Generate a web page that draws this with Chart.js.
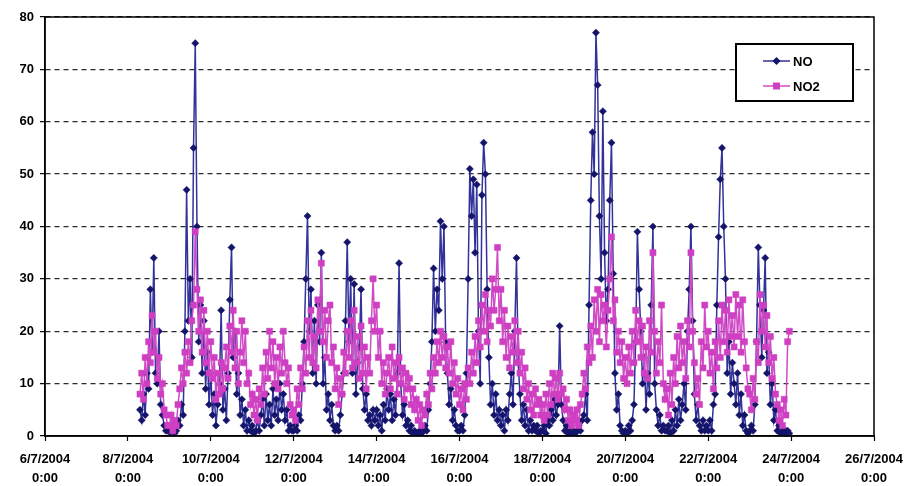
<!DOCTYPE html>
<html>
<head>
<meta charset="utf-8">
<script src="https://cdn.jsdelivr.net/npm/chart.js@4/dist/chart.umd.min.js"></script>
<style>
  html, body { margin: 0; padding: 0; background: #fff; }
  #wrap { width: 918px; height: 486px; position: relative; }
</style>
</head>
<body>
<div id="wrap"><canvas id="c" width="918" height="486"></canvas></div>
<script>
// Hourly readings; the first one is 8/7/2004 7:00, i.e. 55 h after 6/7/2004 0:00
const firstHour = 55;

// NO, one row per day (8/7 starts at 7:00)
const noValues = [
  5,3,8,4,12,9,28,16,34,12,10,20,6,4,2,1,1,
  1,0.5,2,0.5,1,3,2,6,4,20,47,22,30,15,55,75,40,18,25,12,22,9,16,6,
  12,4,8,2,6,10,24,5,9,3,12,26,36,15,20,8,12,4,7,2,5,1,3,1,
  2,0.5,1,3,1,4,7,2,8,3,6,2,9,4,7,3,10,5,8,3,5,1,2,1,
  1,2,1,4,3,10,18,30,42,20,28,12,22,10,25,18,35,10,15,5,8,3,6,2,
  1,2,1,4,8,12,22,37,18,30,12,29,8,14,17,28,9,5,8,3,4,2,5,3,
  5,2,4,1,6,3,9,5,8,3,7,4,12,33,10,4,6,2,3,1,2,0.5,1,0.5,
  0.5,1,0.5,1,2,1,5,10,18,32,20,28,24,41,30,40,18,12,6,9,3,5,2,1,
  1,2,1,4,12,30,51,42,49,35,48,20,10,46,56,50,28,15,6,10,4,8,3,5,
  2,4,1,5,3,8,12,6,20,34,14,8,3,6,2,5,1,3,1,2,1,2,0.5,1,
  1,2,0.5,3,2,5,3,7,4,6,21,6,3,1,2,0.5,1,0.5,1,0.5,1,2,1,3,
  4,8,3,25,45,58,50,77,67,42,30,62,35,22,28,45,56,31,12,5,8,2,1,0.5,
  1,0.5,2,1,3,6,18,39,28,20,10,15,5,12,8,25,40,10,5,2,4,1,2,1,
  1,2,0.5,3,1,5,2,7,3,6,10,5,20,28,40,22,8,3,6,2,1,3,1,2,
  1,3,1,6,8,25,38,49,55,40,30,12,18,8,14,10,6,12,4,8,2,4,1,0.5,
  1,2,1,6,18,36,25,15,24,34,12,16,6,10,3,5,1,2,0.5,1,0.5,1,1,0.5
];

// NO2, same hours
const no2Values = [
  8,12,7,15,10,18,14,23,16,20,11,15,8,10,5,4,2,
  2,4,1,3,2,6,9,13,10,16,12,18,14,22,25,39,28,20,26,16,24,14,20,12,
  18,11,15,7,12,8,14,9,13,17,11,21,16,24,13,20,10,16,22,14,20,10,12,6,
  8,4,7,3,9,6,13,8,16,11,20,13,18,10,15,9,17,12,20,14,10,13,6,4,
  5,3,9,6,13,9,17,12,22,15,24,14,19,13,26,20,33,18,24,15,22,25,14,17,
  9,13,6,11,8,16,12,20,15,22,13,24,14,19,11,21,12,17,9,15,12,22,30,20,
  25,15,20,10,14,8,12,15,9,17,11,14,8,15,10,13,7,12,9,11,6,9,5,7,
  3,6,2,5,4,8,6,12,9,15,12,18,14,20,15,19,13,17,12,18,10,14,8,11,
  6,9,5,10,7,13,10,16,12,19,14,22,17,25,20,27,18,24,21,30,24,28,36,22,
  28,18,24,15,21,13,19,16,22,14,20,12,16,9,13,7,10,5,8,4,9,6,7,4,
  6,3,8,4,10,6,12,8,11,7,12,8,9,5,7,3,5,2,4,3,5,2,6,8,
  12,9,17,14,21,15,26,20,28,18,27,22,25,17,24,30,38,22,26,16,20,14,18,11,
  15,10,17,12,20,14,24,18,22,15,21,12,17,11,22,16,35,20,12,18,14,25,10,7,
  9,4,12,6,15,10,19,13,21,14,18,11,22,17,35,20,14,8,11,6,18,13,25,17,
  20,12,16,9,18,13,22,15,25,18,24,16,26,19,23,17,27,19,25,16,26,18,13,9,
  8,5,11,7,18,14,27,20,25,17,23,14,19,11,15,8,6,3,5,2,7,4,18,20
];

// x axis: one tick every 48 h from 6/7/2004 to 26/7/2004
const tickHours = [0, 48, 96, 144, 192, 240, 288, 336, 384, 432, 480];
const tickLabels = [
  ['6/7/2004', '0:00'], ['8/7/2004', '0:00'], ['10/7/2004', '0:00'],
  ['12/7/2004', '0:00'], ['14/7/2004', '0:00'], ['16/7/2004', '0:00'],
  ['18/7/2004', '0:00'], ['20/7/2004', '0:00'], ['22/7/2004', '0:00'],
  ['24/7/2004', '0:00'], ['26/7/2004', '0:00']
];
const yTicks = [0, 10, 20, 30, 40, 50, 60, 70, 80];

const seriesNames = ['NO', 'NO2'];
const NAVY = '#14146a';
const NAVY_LINE = '#32329a';
const PINK = '#cf3fc2';
const PINK_LINE = '#d04cc6';
const FONT = "'Liberation Sans', Arial, sans-serif";

const toPoints = vals => vals.map((v, i) => ({ x: firstHour + i, y: v }));

// plot frame and boxed legend
const framePlugin = {
  id: 'frameAndLegend',
  afterDraw(chart) {
    const { ctx, chartArea: a } = chart;
    ctx.save();
    ctx.strokeStyle = '#000';
    ctx.lineWidth = 1.5;
    ctx.strokeRect(a.left, a.top, a.right - a.left, a.bottom - a.top);

    // legend box
    const bx = 736, by = 44, bw = 117, bh = 57;
    ctx.fillStyle = '#fff';
    ctx.fillRect(bx, by, bw, bh);
    ctx.lineWidth = 2;
    ctx.strokeStyle = '#000';
    ctx.strokeRect(bx, by, bw, bh);

    const rows = [
      { y: 61, line: NAVY_LINE, mark: NAVY, style: 'rectRot', r: 3 },
      { y: 86, line: PINK_LINE, mark: PINK, style: 'rect', r: 3.8 }
    ];
    rows.forEach((row, i) => {
      ctx.strokeStyle = row.line;
      ctx.lineWidth = 1.5;
      ctx.beginPath();
      ctx.moveTo(763, row.y);
      ctx.lineTo(790, row.y);
      ctx.stroke();
      ctx.fillStyle = row.mark;
      ctx.strokeStyle = row.mark;
      Chart.helpers.drawPoint(ctx, { pointStyle: row.style, radius: row.r, borderWidth: 0.5, rotation: 0 }, 776.5, row.y);
      ctx.fillStyle = '#000';
      ctx.font = 'bold 13px ' + FONT;
      ctx.textBaseline = 'middle';
      ctx.textAlign = 'left';
      ctx.fillText(seriesNames[i], 793, row.y + 1);
    });
    ctx.restore();
  }
};

new Chart(document.getElementById('c'), {
  type: 'line',
  data: {
    datasets: [
      {
        label: seriesNames[0],
        data: toPoints(noValues),
        borderColor: NAVY_LINE,
        borderWidth: 1.5,
        pointStyle: 'rectRot',
        pointRadius: 3.6,
        pointBackgroundColor: NAVY,
        pointBorderColor: NAVY,
        pointBorderWidth: 0.5,
        tension: 0,
        order: 1
      },
      {
        label: seriesNames[1],
        data: toPoints(no2Values),
        borderColor: PINK_LINE,
        borderWidth: 1.5,
        pointStyle: 'rect',
        pointRadius: 4.3,
        pointBackgroundColor: PINK,
        pointBorderColor: PINK,
        pointBorderWidth: 0.5,
        tension: 0,
        order: 0
      }
    ]
  },
  options: {
    responsive: false,
    devicePixelRatio: 1,
    animation: false,
    events: [],
    layout: { padding: { top: 17, right: 44, left: 0, bottom: 0 } },
    plugins: {
      legend: { display: false },
      tooltip: { enabled: false }
    },
    scales: {
      x: {
        type: 'linear',
        min: 0,
        max: 480,
        afterBuildTicks: s => { s.ticks = tickHours.map(v => ({ value: v })); },
        afterFit: s => { s.height = 50; },
        ticks: {
          autoSkip: false,
          maxRotation: 0,
          padding: 9,
          color: '#000',
          font: { family: FONT, size: 13, weight: 'bold', lineHeight: 1.45 },
          callback: v => tickLabels[tickHours.indexOf(v)]
        },
        grid: { drawOnChartArea: false, drawTicks: true, tickLength: 5, color: '#000', tickWidth: 1.2 },
        border: { color: '#000', width: 1.5 }
      },
      y: {
        min: 0,
        max: 80,
        afterBuildTicks: s => { s.ticks = yTicks.map(v => ({ value: v })); },
        afterFit: s => { s.width = 45; },
        ticks: {
          padding: 6,
          color: '#000',
          font: { family: FONT, size: 13, weight: 'bold' }
        },
        grid: { color: '#2a2a2a', lineWidth: 1.3, tickLength: 5, tickColor: '#000', tickWidth: 1.2, tickBorderDash: [] },
        border: { color: '#000', width: 1.5, dash: [5, 4] }
      }
    }
  },
  plugins: [framePlugin]
});
</script>
</body>
</html>
